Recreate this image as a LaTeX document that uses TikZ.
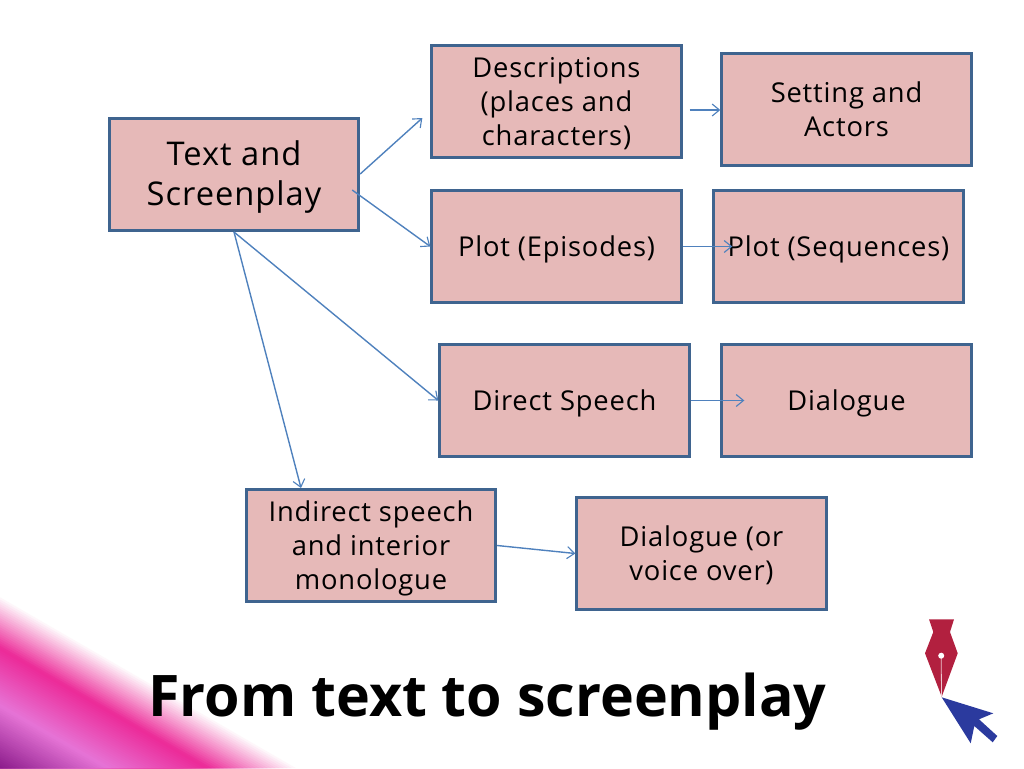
\documentclass[tikz,border=0pt]{standalone}
\usepackage{fontspec}
\usetikzlibrary{arrows.meta,calc}
\newfontfamily\boxfont[LetterSpace=3]{Open Sans}
\newfontfamily\titlefont{Open Sans Bold}
\definecolor{boxfill}{HTML}{E6B9B8}
\definecolor{boxline}{HTML}{3F648F}
\definecolor{arrowline}{HTML}{4F81BD}
\definecolor{bandpink}{HTML}{EC2A98}
\definecolor{bandlilac}{HTML}{E674D6}
\definecolor{bandpurple}{HTML}{8A1A8A}
\definecolor{nibred}{HTML}{B2203F}
\definecolor{cursorblue}{HTML}{2B3A9E}
\newcommand\celltext[1]{\begin{tabular}{@{}c@{}}\rule{0pt}{\dimexpr\ht\strutbox+5.2pt\relax}#1\end{tabular}}
\tikzset{
  card/.style={draw=boxline,fill=boxfill,line width=2.25pt,minimum width=187pt,minimum height=84pt,inner sep=0pt,text=black},
  smalltext/.style={font=\boxfont\fontsize{20.5}{25.5}\selectfont},
  bigtext/.style={font=\boxfont\fontsize{24.5}{30}\selectfont},
  link/.style={draw=arrowline,line width=1.05pt,-{Straight Barb[length=5.5pt,width=9pt,line width=0.85pt]}},
}
\begin{document}
\begin{tikzpicture}[x=0.75pt,y=-0.75pt]
\useasboundingbox (0,0) rectangle (1024,768);
% corner band, painted from the outer edge inwards
\foreach \dd in {0,2,...,44}{
  \pgfmathsetmacro\mixv{100*\dd/45}
  \pgfmathsetmacro\yy{595+\dd/0.866}
  \pgfmathsetmacro\xx{(768-\yy)*1.732}
  \fill[bandpink!\mixv!white] (0,\yy) -- (\xx,768) -- (0,768) -- cycle;
}
\foreach \dd in {46,48,...,94}{
  \pgfmathsetmacro\mixv{100*(\dd-45)/50}
  \pgfmathsetmacro\yy{595+\dd/0.866}
  \pgfmathsetmacro\xx{(768-\yy)*1.732}
  \fill[bandlilac!\mixv!bandpink] (0,\yy) -- (\xx,768) -- (0,768) -- cycle;
}
\foreach \dd in {96,98,...,148}{
  \pgfmathsetmacro\mixv{100*(\dd-95)/55}
  \pgfmathsetmacro\yy{595+\dd/0.866}
  \pgfmathsetmacro\xx{(768-\yy)*1.732}
  \fill[bandpurple!\mixv!bandlilac] (0,\yy) -- (\xx,768) -- (0,768) -- cycle;
}
% boxes
\node[card,bigtext] (src) at (234,174.5) {\celltext{Text and\\Screenplay}};
\node[card,smalltext] (desc) at (556.5,101.5) {\celltext{Descriptions\\(places and\\characters)}};
\node[card,smalltext] (setting) at (846.5,109.5) {\celltext{Setting and\\Actors}};
\node[card,smalltext] (episodes) at (556.5,246.5) {\celltext{Plot (Episodes)}};
\node[card,smalltext] (sequences) at (838.5,246.5) {\celltext{Plot (Sequences)}};
\node[card,smalltext] (direct) at (564.5,400.5) {\celltext{Direct Speech}};
\node[card,smalltext] (dialogue) at (846.5,400.5) {\celltext{Dialogue}};
\node[card,smalltext] (indirect) at (371,545.5) {\celltext{Indirect speech\\and interior\\monologue}};
\node[card,smalltext] (voice) at (701.5,553.5) {\celltext{Dialogue (or\\voice over)}};
% connectors
\coordinate (a1s) at ($(src.east)+(0,-0.5)$);
\coordinate (a1e) at ($(desc.west)+(-8,16.5)$);
\coordinate (a2s) at ($(src.east)+(-8,15.5)$);
\coordinate (a4e) at ($(indirect.north)+(-70,0)$);
\coordinate (a5s) at ($(desc.east)+(7,8.5)$);
\coordinate (a5e) at (setting.west);
\coordinate (a6e) at ($(sequences.west)+(20,0)$);
\coordinate (a7e) at ($(dialogue.west)+(24,0)$);
\draw[link] (a1s) -- (a1e);
\draw[link] (a2s) -- (episodes.west);
\draw[link] (src.south) -- (direct.west);
\draw[link] (src.south) -- (a4e);
\draw[link] (a5s) -- (a5e |- a5s);
\draw[link] (episodes.east) -- (a6e);
\draw[link] (direct.east) -- (a7e);
\draw[link] (indirect.east) -- (voice.west);
% title
\node[font=\titlefont\fontsize{43}{48}\selectfont,text=black,inner sep=0pt,anchor=base] (title) at (487.5,716) {From text to screenplay};
% pen nib and cursor
\fill[nibred] (929,619.3) -- (954,619.3) -- (950,632) -- (957.7,653.3) -- (941.7,696.7) -- (925,653.3) -- (933.3,632) -- cycle;
\draw[white!75!nibred,line width=0.6pt] (941.2,655.7) -- (941.5,696);
\fill[white] (941.2,655.7) circle (3);
\fill[cursorblue] (941.7,697.3) -- (993.3,713.3) -- (979,719.3) -- (997.3,736) -- (992.7,742.3) -- (974.3,726) -- (970.7,743.3) -- cycle;
\end{tikzpicture}
\end{document}
